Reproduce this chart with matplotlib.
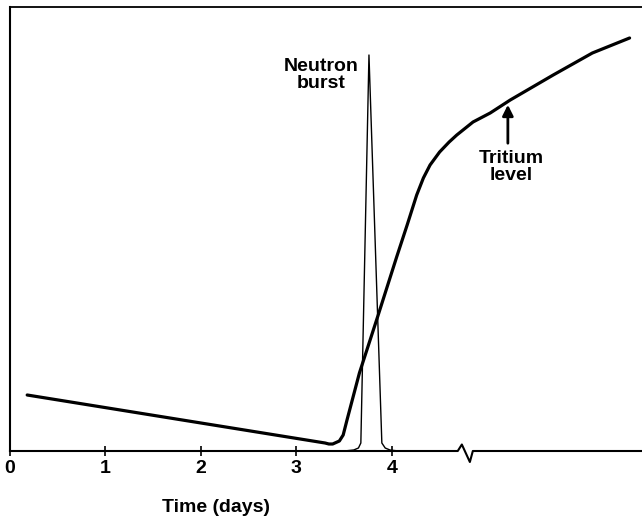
import matplotlib
matplotlib.use("Agg")
import matplotlib.pyplot as plt
import matplotlib.transforms as mtransforms

plt.rcParams['font.family'] = ['Liberation Sans', 'DejaVu Sans']

# tritium level (arbitrary units) vs time in days
tritium_days = [0.18, 3.30, 3.34, 3.38, 3.45, 3.49, 3.53, 3.66, 3.85, 4.05, 4.16,
                4.26, 4.33, 4.40, 4.50, 4.60, 4.68, 4.85, 5.03, 5.24, 5.69, 6.10, 6.49]
tritium_level = [56, 8, 7, 7, 10, 16, 31, 78, 134, 194, 226,
                 256, 273, 286, 299, 309, 316, 329, 338, 351, 376, 398, 413]

# neutron burst pulse
burst_days = [3.50, 3.60, 3.65, 3.675, 3.76, 3.895, 3.93, 3.98, 4.07]
burst_level = [0, 1, 3, 8, 396, 8, 3, 1, 0]

# axis with break mark
axis_days = [0, 4.69, 4.733, 4.817, 4.848, 6.62]
axis_level = [0, 0, 6.5, -11, 0, 0]

ticks = [0, 1, 2, 3, 4]

fig = plt.figure(figsize=(6.42, 5.25), dpi=100)
ax = fig.add_axes([10/642, 74/525, 632/642, 444/525])

ax.plot(tritium_days, tritium_level, color='black', lw=2.3,
        solid_joinstyle='round', solid_capstyle='round')
ax.plot(burst_days, burst_level, color='black', lw=1.0)
ax.plot(axis_days, axis_level, color='black', lw=1.5, clip_on=False)

ax.set_xlim(0, 6.62)
ax.set_ylim(0, 444)
ax.spines['right'].set_visible(False)
ax.spines['bottom'].set_visible(False)
ax.spines['left'].set_linewidth(1.5)
ax.spines['top'].set_linewidth(1.3)
ax.set_yticks([])
ax.set_xticks(ticks)
ax.set_xticklabels([str(t) for t in ticks], fontsize=14, fontweight='bold')
ax.tick_params(axis='x', direction='inout', length=7, width=1.2, pad=3)

trans = mtransforms.blended_transform_factory(ax.transData, ax.transAxes)
ax.text(2.16, -0.128, "Time (days)", transform=trans, fontsize=14,
        fontweight='bold', ha='center', va='center')

ax.text(3.26, 376, "Neutron\nburst", fontsize=14, fontweight='bold',
        ha='center', va='center', linespacing=1.0)
ax.text(5.25, 284, "Tritium\nlevel", fontsize=14, fontweight='bold',
        ha='center', va='center', linespacing=1.0)
ax.annotate("", xy=(5.215, 349), xytext=(5.215, 305),
            arrowprops=dict(arrowstyle='-|>', color='black', lw=2,
                            mutation_scale=16))

fig.savefig('out.png', dpi=100)
